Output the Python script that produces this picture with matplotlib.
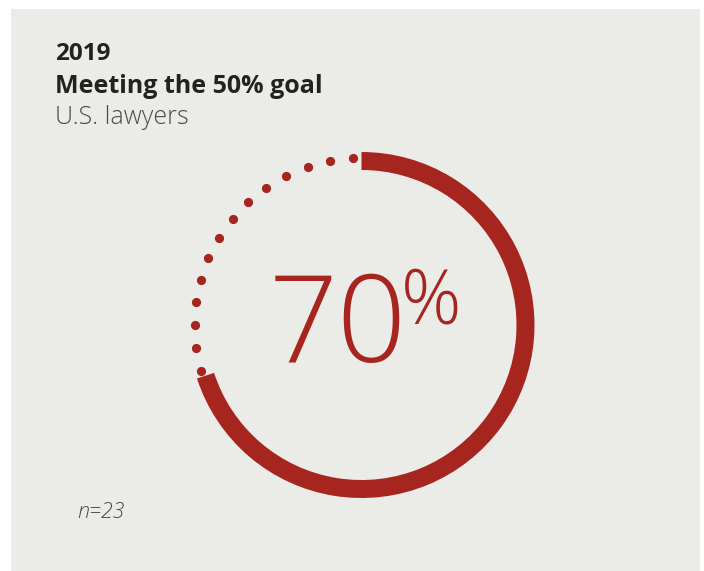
import numpy as np
import matplotlib
matplotlib.use("Agg")
from matplotlib import pyplot as plt
from matplotlib.patches import Rectangle

# data
year = "2019"
title = "Meeting the 50% goal"
subtitle = "U.S. lawyers"
share = 70          # percent meeting the goal
rest = 100 - share
n_label = "n=23"

RED = "#a6261f"
BG = "#ebebe7"
W, H = 704, 571

fig = plt.figure(figsize=(W / 100, H / 100), dpi=100)
fig.patch.set_facecolor("white")

# page axes in pixel coords
ax = fig.add_axes([0, 0, 1, 1])
ax.set_xlim(0, W)
ax.set_ylim(H, 0)
ax.axis("off")
ax.add_patch(Rectangle((11, 9), 689, 562, facecolor=BG, edgecolor="none"))

ax.text(55, 60, year, fontsize=17.5, fontweight="bold", color="#222222",
        family="Open Sans")
ax.text(55, 93, title, fontsize=18, fontweight="bold", color="#222222",
        family="Open Sans")
ax.text(55, 124, subtitle, fontsize=18, color="#4a4a4a",
        family="Open Sans", fontweight="light")
ax.text(77, 518, n_label, fontsize=15.5, color="#4a4a4a", style="italic",
        family="Open Sans", fontweight="light")

# donut
cx, cy, r = 361.5, 325, 173
ax2 = fig.add_axes([(cx - r) / W, (H - cy - r) / H, 2 * r / W, 2 * r / H])
ax2.pie([share, rest], colors=[RED, "none"], startangle=90, counterclock=False,
        radius=1, wedgeprops=dict(width=18 / r, linewidth=0))
ax2.set_xlim(-1, 1)
ax2.set_ylim(-1, 1)
ax2.set_aspect("equal")
ax2.axis("off")

# dotted remainder
a0 = 90
a1 = 90 + rest / 100 * 360
ang = np.radians(np.linspace(a0 + 3, a1 - 2, 14))
rd = 167 / r
ax2.scatter(rd * np.cos(ang), rd * np.sin(ang), s=44, color=RED,
            linewidths=0, zorder=3)

# big number
ax.text(338, 362, str(share), fontsize=87, color=RED, ha="center",
        va="baseline", family="Open Sans", fontweight="light")
ax.text(401, 323, "%", fontsize=54, color=RED, ha="left",
        va="baseline", family="Open Sans", fontweight="light")

fig.savefig("out.png", dpi=100, facecolor="white")
